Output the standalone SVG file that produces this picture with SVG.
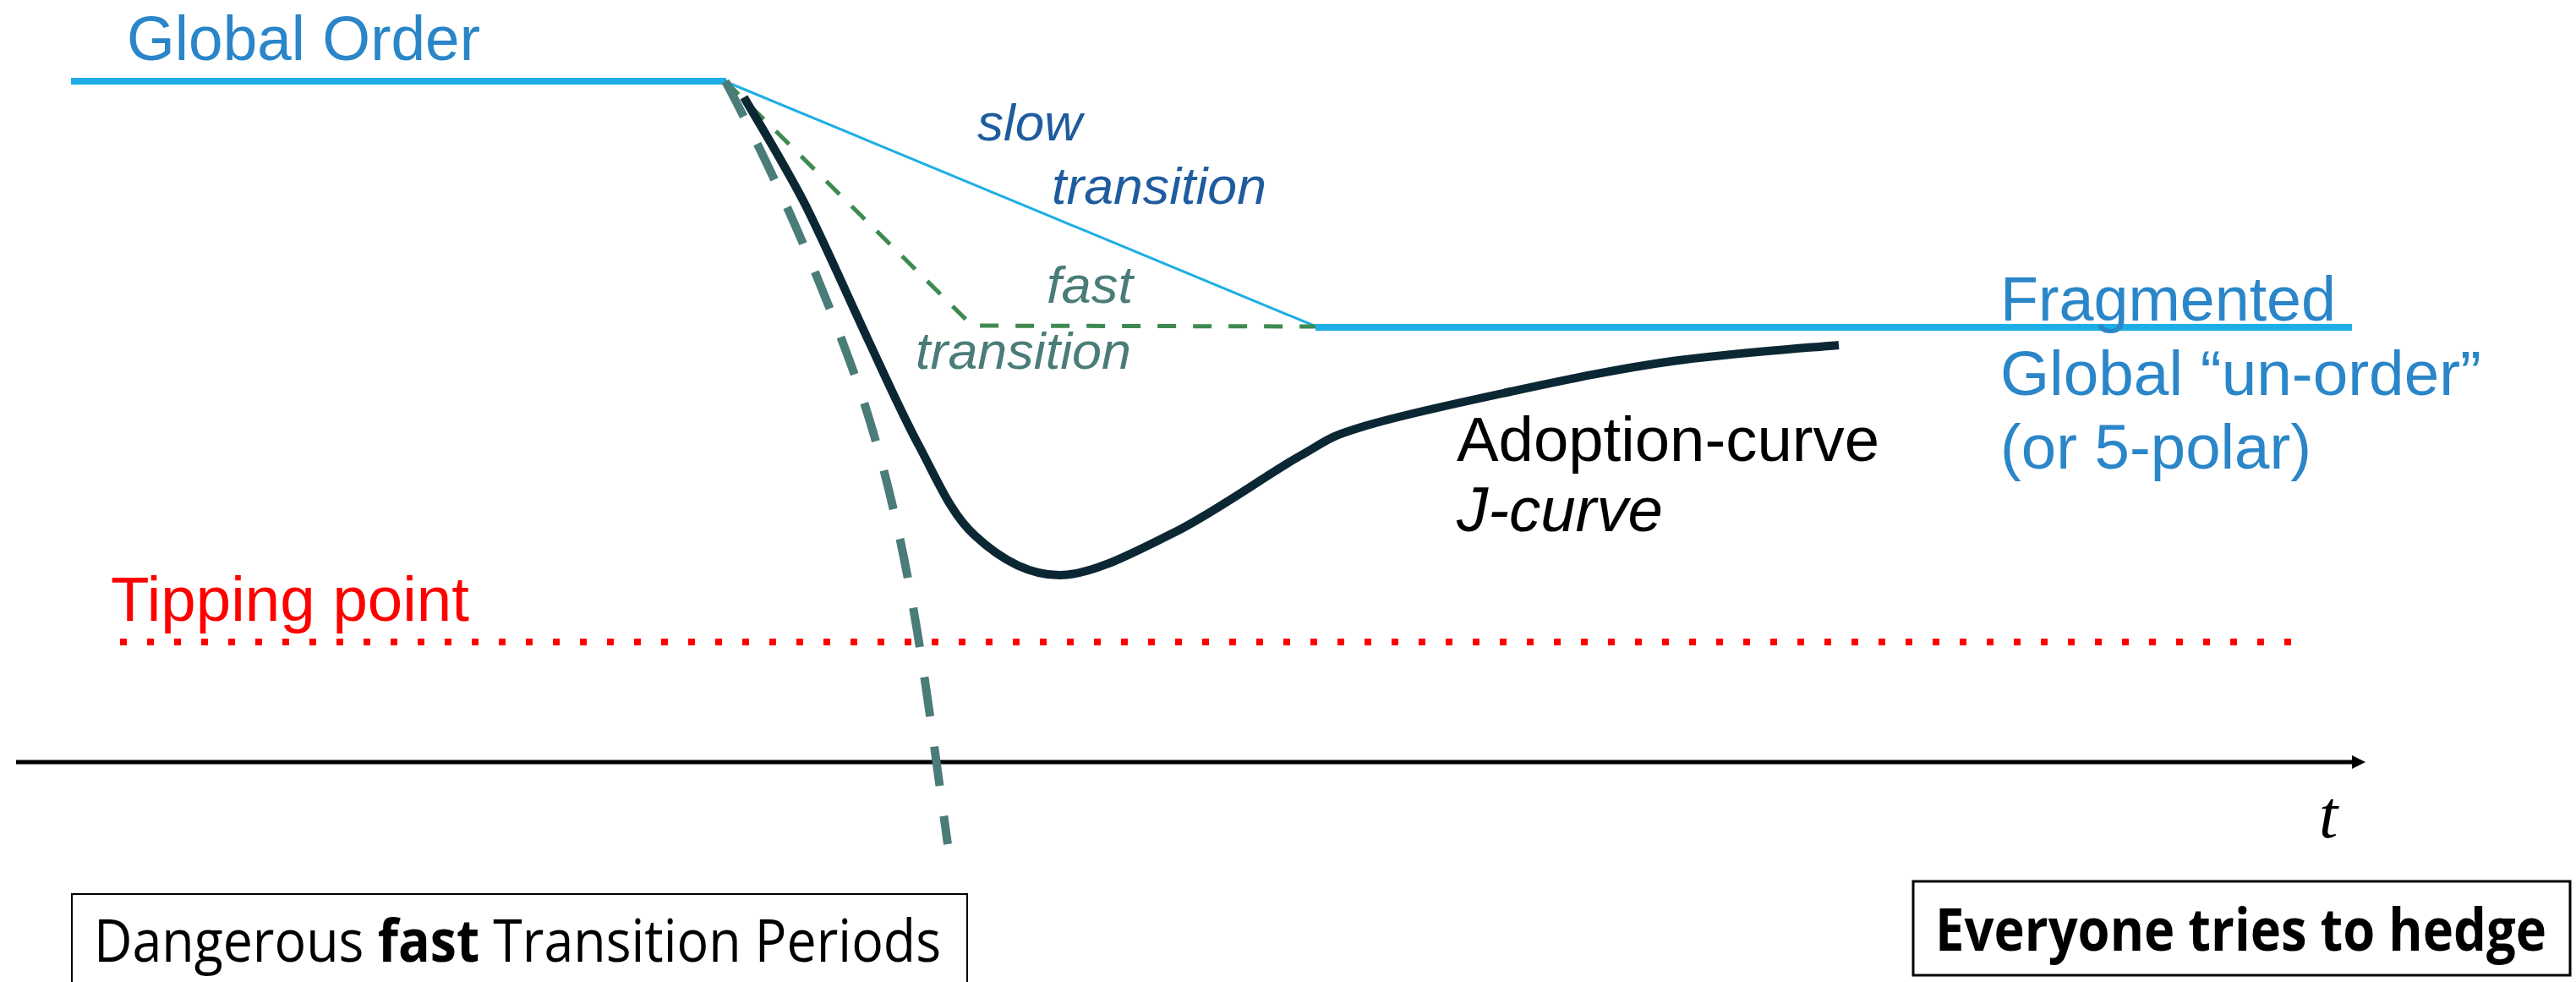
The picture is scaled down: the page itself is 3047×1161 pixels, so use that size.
<svg xmlns="http://www.w3.org/2000/svg" width="3047" height="1161" viewBox="0 0 3047 1161">
<defs>
<marker id="arrow" viewBox="0 0 16 16" refX="0" refY="8" markerWidth="16" markerHeight="16" markerUnits="userSpaceOnUse" orient="auto">
<path d="M0,0 L16,8 L0,16 Z" fill="#000"/>
</marker>
</defs>
<style>
.sans{font-family:"Liberation Sans",Arial,sans-serif;}
.lbl{font-size:74px;}
.it{font-style:italic;font-size:62px;}
.blue{fill:#2A86C8;}
.box{fill:#fff;stroke:#000;}
.cal{font-family:"Open Sans","Noto Sans",sans-serif;fill:#000;}
</style>
<rect width="3047" height="1161" fill="#fff"/>
<g id="connectors" fill="none">
<line id="axis" x1="19" y1="901" x2="2782" y2="901" stroke="#000" stroke-width="5" marker-end="url(#arrow)"/>
<line id="tipping-line" x1="142" y1="759" x2="2712" y2="759" stroke="#FF0000" stroke-width="8" stroke-dasharray="8 24"/>
<line id="global-order-line" x1="84" y1="96" x2="859" y2="96" stroke="#1EAEE5" stroke-width="8"/>
<line id="slow-line" x1="857" y1="96" x2="1559" y2="387" stroke="#1EAEE5" stroke-width="3"/>
<line id="fragmented-line" x1="1556" y1="387" x2="2782" y2="387" stroke="#1EAEE5" stroke-width="8"/>
<path id="fast-line" d="M858,96 L1150,385 L1556,386" stroke="#3E8A50" stroke-width="5" stroke-dasharray="22 20"/>
<path id="jcurve" d="M880,115 C892,136 929,196 953,243 C977,291 1004,353 1026,400 C1048,447 1066,488 1087,527 C1108,566 1125,608 1153,633 C1181,659 1214,680 1253,680 C1292,680 1341,653 1388,630 C1435,607 1499,561 1536,540 C1573,519 1568,518 1610,505 C1652,492 1726,476 1787,463 C1848,450 1913,436 1978,427 C2043,418 2142,411 2175,408" stroke="#0B2733" stroke-width="10"/>
<path id="collapse-line" d="M858,96 C918,209 967,322 1008,435 C1075,621 1094,807 1121,998" stroke="#4A7C78" stroke-width="10" stroke-dasharray="47 36"/>
</g>
<g id="label-global-order"><text class="sans lbl blue" x="150" y="71" textLength="418" lengthAdjust="spacingAndGlyphs">Global Order</text></g>
<g id="label-slow" class="sans it" fill="#1E5C9E">
<text x="1156" y="166" textLength="124" lengthAdjust="spacingAndGlyphs">slow</text>
<text x="1244" y="241" textLength="254" lengthAdjust="spacingAndGlyphs">transition</text>
</g>
<g id="label-fast" class="sans it" fill="#4A7C78">
<text x="1238" y="358" textLength="102" lengthAdjust="spacingAndGlyphs">fast</text>
<text x="1083" y="436" textLength="255" lengthAdjust="spacingAndGlyphs">transition</text>
</g>
<g id="label-fragmented" class="sans lbl blue">
<text x="2366" y="379" textLength="397" lengthAdjust="spacingAndGlyphs">Fragmented</text>
<text x="2366" y="467" textLength="569" lengthAdjust="spacingAndGlyphs">Global “un-order”</text>
<text x="2366" y="554" textLength="368" lengthAdjust="spacingAndGlyphs">(or 5-polar)</text>
</g>
<g id="label-adoption" class="sans lbl" fill="#000">
<text x="1723" y="545" textLength="500" lengthAdjust="spacingAndGlyphs">Adoption-curve</text>
<text x="1723" y="628" font-style="italic" textLength="244" lengthAdjust="spacingAndGlyphs">J-curve</text>
</g>
<g id="label-tipping"><text class="sans lbl" fill="#FF0000" x="131" y="734" textLength="424" lengthAdjust="spacingAndGlyphs">Tipping point</text></g>
<g id="label-t"><text x="2743" y="990" font-family="'Liberation Serif','DejaVu Serif',serif" font-style="italic" font-size="80" fill="#000">t</text></g>
<g id="box-dangerous">
<rect class="box" x="85" y="1057" width="1059" height="120" stroke-width="2"/>
<text class="cal" x="111" y="1137" font-size="69" textLength="1002" lengthAdjust="spacingAndGlyphs">Dangerous <tspan font-weight="bold">fast</tspan> Transition Periods</text>
</g>
<g id="box-hedge">
<rect class="box" x="2263" y="1042" width="777" height="111" stroke-width="3"/>
<text class="cal" x="2289" y="1124" font-size="69" font-weight="bold" textLength="723" lengthAdjust="spacingAndGlyphs">Everyone tries to hedge</text>
</g>
</svg>
